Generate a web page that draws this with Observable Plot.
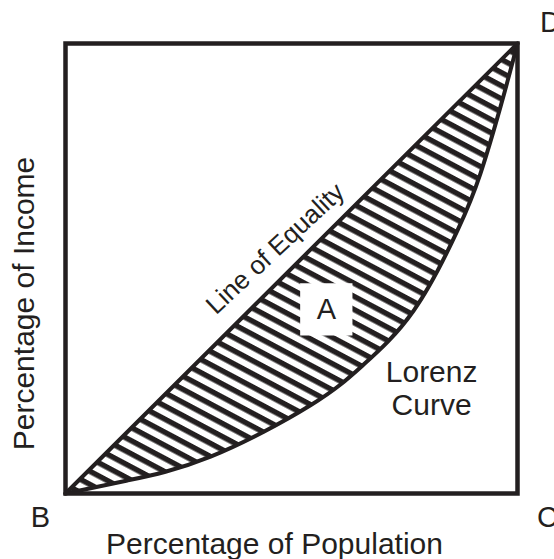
<!DOCTYPE html>
<html>
<head>
<meta charset="utf-8">
<script src="https://cdn.jsdelivr.net/npm/d3@7"></script>
<script src="https://cdn.jsdelivr.net/npm/@observablehq/plot@0.6"></script>
<style>
  html, body { margin: 0; padding: 0; background: #fff; }
</style>
</head>
<body>
<div id="chart"></div>
<script>
// Lorenz curve (cumulative % of population vs % of income)
const populationShare = [0, 13.7, 32.1, 54.2, 65.9, 77.0, 86.7, 91.8, 96.2, 98.9, 100];
const incomeShare     = [0, 2.9, 8.2, 19.6, 28.6, 40.6, 58.4, 71.1, 85.8, 95.8, 100];

const xLabel = "Percentage of Population";
const yLabel = "Percentage of Income";
const cornerNames = ["B", "C", "D"];
const cornerX = [0, 100, 100];
const cornerY = [0, 0, 100];
const equalityLabel = "Line of Equality";
const lorenzLabel = "Lorenz\nCurve";
const areaLabel = "A";

const ink = "#231f20";
const font = "'Liberation Sans', Arial, Helvetica, sans-serif";

const curve = populationShare.map((p, i) => ({x: p, lorenz: incomeShare[i], equal: p}));
const equality = [populationShare[0], populationShare[populationShare.length - 1]].map(p => ({x: p, y: p}));
const corners = cornerNames.map((n, i) => ({name: n, x: cornerX[i], y: cornerY[i]}));

const svg = Plot.plot({
  width: 554,
  height: 559,
  marginLeft: 65,
  marginRight: 37,
  marginTop: 43,
  marginBottom: 66,
  x: {domain: [0, 100], axis: null},
  y: {domain: [0, 100], axis: null},
  style: {background: "#fff", fontFamily: font},
  marks: [
    Plot.areaY(curve, {x: "x", y1: "lorenz", y2: "equal", curve: "natural", fill: "url(#hatch)"}),
    Plot.line(curve, {x: "x", y: "lorenz", curve: "natural", stroke: ink, strokeWidth: 4}),
    Plot.line(equality, {x: "x", y: "y", stroke: ink, strokeWidth: 4}),
    Plot.frame({stroke: ink, strokeWidth: 4.5}),
    Plot.dot([{x: 57.7, y: 40.9}], {x: "x", y: "y", symbol: "square", r: 29.5, fill: "#fff", stroke: null}),
    Plot.text([{x: 57.7, y: 40.9}], {x: "x", y: "y", text: () => areaLabel, fontSize: 29, fill: ink}),
    Plot.text([{x: 46.4, y: 54.4}], {x: "x", y: "y", text: () => equalityLabel, rotate: -43, fontSize: 26, fill: ink}),
    Plot.text([{x: 81.0, y: 23.4}], {x: "x", y: "y", text: () => lorenzLabel, fontSize: 30, lineHeight: 1.1, fill: ink}),
    Plot.text(corners.slice(0, 1), {x: "x", y: "y", text: "name", fontSize: 29, fill: ink, dx: -25, dy: 24}),
    Plot.text(corners.slice(1, 2), {x: "x", y: "y", text: "name", fontSize: 29, fill: ink, dx: 30, dy: 24}),
    Plot.text(corners.slice(2, 3), {x: "x", y: "y", text: "name", fontSize: 29, fill: ink, dx: 33, dy: -21}),
    Plot.text([xLabel], {frameAnchor: "bottom", textAnchor: "middle", lineAnchor: "middle", text: d => d, fontSize: 30, fill: ink, dx: -17, dy: 51}),
    Plot.text([yLabel], {frameAnchor: "left", textAnchor: "middle", lineAnchor: "middle", text: d => d, rotate: -90, fontSize: 30, fill: ink, dx: -41, dy: 35})
  ]
});

const defs = d3.select(svg).insert("defs", ":first-child");
const pat = defs.append("pattern")
  .attr("id", "hatch")
  .attr("patternUnits", "userSpaceOnUse")
  .attr("width", 20)
  .attr("height", 11.6)
  .attr("patternTransform", "rotate(28)");
pat.append("rect").attr("x", 0).attr("y", 0).attr("width", 20).attr("height", 5.4).attr("fill", ink);

document.getElementById("chart").appendChild(svg);
</script>
</body>
</html>
